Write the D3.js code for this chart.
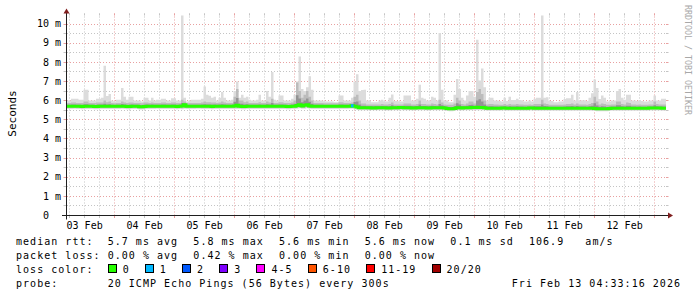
<!DOCTYPE html>
<html>
<head>
<meta charset="utf-8">
<script src="https://cdn.jsdelivr.net/npm/d3@7"></script>
<style>
body { margin: 0; background: #fff; }
svg { display: block; }
text { font-family: "DejaVu Sans Mono", monospace; fill: #000; white-space: pre; }
</style>
</head>
<body>
<svg id="chart" width="697" height="297"></svg>
<script>
// 10 days of hourly rows, newest at the right
const startTime = Date.UTC(2026, 1, 3, 4, 33, 16);
const endTime = Date.UTC(2026, 1, 13, 4, 33, 16);
const binMs = 3600 * 1000;

// highest ping per hour (ms)
const rttMax = [
  6.0,6.0,6.1,6.1,6.1,6.05,6.05,6.57,6.57,6.0,6.0,6.0,6.1,6.1,6.15,7.82,6.24,6.35,6.0,5.95,
  6.05,6.05,6.66,6.2,6.05,6.2,6.2,6.0,6.0,6.0,5.95,6.15,6.15,6.0,6.15,6.0,6.05,6.05,6.1,6.1,
  6.0,6.0,6.12,6.12,6.0,6.0,10.6,6.15,5.95,6.0,6.05,6.05,6.05,6.05,6.1,6.73,6.3,6.25,6.15,6.2,
  6.0,6.15,6.45,6.15,6.0,6.0,6.05,6.5,7.0,6.15,6.3,6.15,6.2,6.05,6.0,6.0,6.05,6.3,6.0,6.0,
  6.5,6.2,7.5,6.05,6.0,6.26,6.26,6.0,6.0,6.0,6.1,6.3,7.0,8.3,6.6,6.5,6.7,7.27,6.57,6.0,
  6.0,6.0,6.0,5.95,5.95,5.95,5.95,5.92,5.92,6.26,6.26,6.0,6.0,6.0,6.15,7.0,7.38,6.5,6.55,6.57,
  6.0,6.0,5.92,5.92,5.92,6.0,6.05,5.95,5.95,6.15,6.32,5.98,5.98,5.95,5.95,6.26,6.26,6.26,6.0,6.0,
  6.1,6.83,6.15,6.1,6.0,6.0,6.2,6.15,6.0,9.53,6.57,6.0,6.0,5.92,5.92,6.3,7.13,6.6,6.15,6.0,
  6.26,6.5,6.5,6.2,9.18,7.05,7.68,6.7,6.0,6.15,6.15,6.0,6.0,5.98,5.95,6.15,5.98,6.2,6.03,6.03,
  6.1,6.03,6.02,5.95,5.95,6.0,5.95,6.1,6.15,6.15,10.6,6.15,6.17,5.98,5.98,5.92,5.92,5.95,5.95,6.08,
  6.12,6.12,6.3,6.0,6.45,6.0,6.02,6.02,5.98,6.15,6.38,7.1,6.66,6.08,6.26,6.15,5.95,5.95,6.0,6.0,
  6.5,6.6,6.15,6.05,6.3,6.3,6.0,6.0,5.98,6.03,5.98,5.95,5.95,6.0,6.0,6.26,6.0,6.0,6.1,6.1
];

// upper edge of the dense smoke (ms)
const rttHi = [
  5.88,5.88,5.9,5.9,5.88,5.88,5.88,5.95,5.95,5.88,5.88,5.88,5.9,5.9,5.9,6.0,5.92,5.95,5.88,5.86,
  5.88,5.88,5.95,5.9,5.88,5.9,5.9,5.88,5.88,5.88,5.86,5.9,5.9,5.88,5.9,5.88,5.88,5.88,5.9,5.9,
  5.88,5.88,5.9,5.9,5.88,5.88,6.05,5.95,5.86,5.88,5.88,5.88,5.88,5.88,5.9,5.95,5.92,5.92,5.9,5.9,
  5.88,5.9,5.95,5.9,5.88,5.88,5.88,6.2,6.6,6.0,6.0,5.92,5.95,5.88,5.88,5.88,5.88,5.92,5.88,5.88,
  5.95,5.9,6.1,5.88,5.88,5.92,5.92,5.88,5.88,5.88,5.9,6.0,6.95,6.5,6.15,6.3,6.5,6.2,6.0,5.88,
  5.88,5.88,5.88,5.86,5.86,5.86,5.86,5.86,5.86,5.92,5.92,5.88,5.88,5.88,5.9,6.2,6.3,6.0,5.85,5.85,
  5.8,5.8,5.8,5.8,5.8,5.8,5.82,5.8,5.8,5.82,5.9,5.8,5.8,5.8,5.8,5.85,5.85,5.85,5.8,5.8,
  5.82,6.0,5.82,5.82,5.8,5.8,5.85,5.82,5.8,6.05,5.9,5.8,5.78,5.78,5.78,5.85,6.15,6.0,5.82,5.8,
  5.85,5.95,5.95,5.85,6.45,6.6,6.35,6.0,5.8,5.82,5.82,5.8,5.8,5.78,5.78,5.82,5.78,5.82,5.8,5.8,
  5.82,5.8,5.8,5.78,5.78,5.8,5.78,5.82,5.82,5.82,6.05,5.85,5.82,5.78,5.78,5.78,5.78,5.78,5.78,5.8,
  5.82,5.82,5.85,5.8,5.85,5.8,5.8,5.8,5.78,5.82,5.88,6.2,5.95,5.8,5.85,5.82,5.78,5.78,5.8,5.8,
  5.95,5.95,5.82,5.8,5.9,5.88,5.8,5.8,5.78,5.8,5.78,5.78,5.78,5.8,5.8,5.95,5.82,5.8,5.8,5.8
];

// median rtt per hour (ms)
const rttMed = [
  5.7,5.7,5.7,5.71,5.7,5.7,5.69,5.7,5.7,5.7,5.7,5.69,5.69,5.7,5.7,5.71,5.7,5.7,5.7,5.7,
  5.7,5.7,5.71,5.7,5.69,5.69,5.7,5.7,5.7,5.68,5.68,5.69,5.7,5.7,5.7,5.7,5.71,5.7,5.7,5.7,
  5.7,5.7,5.7,5.7,5.69,5.7,5.72,5.78,5.7,5.7,5.7,5.7,5.71,5.71,5.7,5.7,5.7,5.7,5.69,5.7,
  5.7,5.7,5.7,5.7,5.7,5.7,5.7,5.72,5.76,5.7,5.69,5.69,5.7,5.7,5.7,5.7,5.7,5.7,5.7,5.7,
  5.7,5.7,5.7,5.7,5.7,5.7,5.7,5.7,5.69,5.69,5.7,5.7,5.74,5.78,5.72,5.76,5.78,5.72,5.7,5.7,
  5.7,5.7,5.7,5.7,5.7,5.7,5.7,5.7,5.7,5.7,5.7,5.7,5.7,5.71,5.73,5.7,5.66,5.63,5.63,5.63,
  5.63,5.63,5.62,5.62,5.63,5.63,5.63,5.63,5.62,5.62,5.63,5.63,5.63,5.64,5.64,5.63,5.63,5.63,5.62,5.62,
  5.63,5.63,5.63,5.63,5.62,5.62,5.63,5.63,5.63,5.63,5.63,5.62,5.59,5.58,5.58,5.59,5.63,5.63,5.62,5.63,
  5.63,5.63,5.64,5.64,5.65,5.64,5.64,5.63,5.6,5.6,5.6,5.6,5.6,5.6,5.61,5.61,5.6,5.6,5.6,5.6,
  5.6,5.6,5.6,5.6,5.6,5.61,5.61,5.6,5.6,5.6,5.6,5.6,5.6,5.6,5.6,5.6,5.6,5.6,5.6,5.6,
  5.6,5.6,5.6,5.6,5.6,5.6,5.6,5.6,5.6,5.6,5.6,5.59,5.58,5.58,5.58,5.58,5.58,5.59,5.6,5.6,
  5.6,5.6,5.6,5.6,5.6,5.6,5.6,5.6,5.6,5.6,5.6,5.6,5.6,5.61,5.61,5.61,5.61,5.61,5.6,5.6
];

// lowest ping per hour (ms)
const rttMin = [
  5.56,5.56,5.56,5.57,5.56,5.56,5.55,5.56,5.56,5.56,5.56,5.55,5.55,5.56,5.56,5.56,5.56,5.56,5.56,5.56,
  5.56,5.56,5.57,5.56,5.55,5.55,5.56,5.56,5.56,5.54,5.54,5.55,5.56,5.56,5.56,5.56,5.57,5.56,5.56,5.56,
  5.56,5.56,5.56,5.56,5.55,5.56,5.55,5.58,5.56,5.56,5.56,5.56,5.57,5.57,5.56,5.56,5.56,5.56,5.55,5.56,
  5.56,5.56,5.56,5.56,5.56,5.56,5.56,5.56,5.56,5.56,5.55,5.55,5.56,5.56,5.56,5.56,5.56,5.56,5.56,5.56,
  5.56,5.56,5.56,5.56,5.56,5.56,5.56,5.56,5.55,5.55,5.56,5.56,5.58,5.6,5.57,5.58,5.6,5.57,5.56,5.56,
  5.56,5.56,5.56,5.56,5.56,5.56,5.56,5.56,5.56,5.56,5.56,5.56,5.56,5.57,5.58,5.55,5.52,5.5,5.5,5.5,
  5.49,5.49,5.49,5.49,5.49,5.49,5.49,5.49,5.48,5.48,5.49,5.49,5.49,5.5,5.5,5.49,5.49,5.49,5.48,5.48,
  5.49,5.49,5.49,5.49,5.48,5.48,5.49,5.49,5.49,5.49,5.49,5.48,5.46,5.45,5.45,5.46,5.49,5.49,5.48,5.49,
  5.49,5.5,5.5,5.5,5.5,5.5,5.5,5.49,5.47,5.47,5.47,5.47,5.47,5.47,5.48,5.48,5.47,5.47,5.47,5.47,
  5.47,5.47,5.47,5.47,5.47,5.48,5.48,5.47,5.47,5.47,5.47,5.47,5.47,5.47,5.47,5.47,5.47,5.47,5.47,5.47,
  5.47,5.47,5.47,5.47,5.47,5.47,5.47,5.47,5.47,5.47,5.47,5.46,5.45,5.45,5.45,5.45,5.45,5.46,5.47,5.47,
  5.47,5.47,5.47,5.47,5.47,5.47,5.47,5.47,5.47,5.47,5.47,5.47,5.47,5.48,5.48,5.48,5.48,5.48,5.47,5.47
];

// [hour index, pings lost]
const lossEvents = [[114, 1]];

const lossLabels = ["0", "1", "2", "3", "4-5", "6-10", "11-19", "20/20"];
const lossColors = ["#26ff00", "#00b8ff", "#0059ff", "#7e00ff", "#ff00ff", "#ff5500", "#ff0000", "#a10000"];

const yTicks = [0, 1, 2, 3, 4, 5, 6, 7, 8, 9, 10];

const statLines = [
  ["median rtt:", ["5.7 ms avg", "5.8 ms max", "5.6 ms min", "5.6 ms now", "0.1 ms sd", "106.9   am/s"]],
  ["packet loss:", ["0.00 % avg", "0.42 % max", "0.00 % min", "0.00 % now"]],
  ["loss color:", []],
  ["probe:", ["20 ICMP Echo Pings (56 Bytes) every 300s"]]
];
const stampText = "Fri Feb 13 04:33:16 2026";

const svg = d3.select("#chart");
svg.append("rect").attr("width", 697).attr("height", 297).attr("fill", "#fff");

const x0 = 66, x1 = 666, yBase = 215.5, yTop = 15.5;
const x = d3.scaleUtc().domain([new Date(startTime), new Date(endTime)]).range([x0, x1]);
const y = d3.scaleLinear().domain([0, 10]).range([yBase, 24]);
const crisp = v => Math.floor(v) + 0.5;

const gridCol = "#c4c4c4", mgridCol = "#e8a0a0";

// vertical grid
const grid = svg.append("g");
const sixHours = d3.utcHour.every(6).range(new Date(startTime), new Date(endTime));
sixHours.forEach(t => {
  const major = t.getUTCHours() === 0;
  const px = crisp(x(t));
  const col = major ? mgridCol : gridCol;
  grid.append("line").attr("x1", px).attr("x2", px).attr("y1", yTop - 2).attr("y2", yBase + 2)
    .attr("stroke", col).attr("stroke-dasharray", "1,2");
  grid.append("line").attr("x1", px).attr("x2", px).attr("y1", yBase).attr("y2", yBase + 2.5)
    .attr("stroke", col);
  grid.append("line").attr("x1", px).attr("x2", px).attr("y1", yTop - 2).attr("y2", yTop)
    .attr("stroke", col);
});

// horizontal grid
d3.range(1, 21).map(d => d / 2).forEach(v => {
  const major = Number.isInteger(v);
  const py = crisp(y(v));
  const col = major ? mgridCol : gridCol;
  grid.append("line").attr("x1", x0 - 2).attr("x2", x1 + 2).attr("y1", py).attr("y2", py)
    .attr("stroke", col).attr("stroke-dasharray", "1,2");
  grid.append("line").attr("x1", x0 - 2.5).attr("x2", x0).attr("y1", py).attr("y2", py).attr("stroke", col);
  grid.append("line").attr("x1", x1).attr("x2", x1 + 2.5).attr("y1", py).attr("y2", py).attr("stroke", col);
});

// smoke + median
svg.append("clipPath").attr("id", "plotClip")
  .append("rect").attr("x", x0).attr("y", yTop).attr("width", x1 - x0 + 1).attr("height", yBase - yTop);

const rows = rttMax.map((m, i) => ({
  t: new Date(startTime + i * binMs), max: m, hi: rttHi[i], med: rttMed[i], min: rttMin[i]
}));
rows.push({ ...rows[rows.length - 1], t: new Date(endTime) });

const plot = svg.append("g").attr("clip-path", "url(#plotClip)");
const band = (lo, hi) => d3.area().curve(d3.curveStepAfter)
  .x(d => x(d.t)).y0(d => y(lo(d))).y1(d => y(hi(d)));

plot.append("path").datum(rows).attr("fill", "#dcdcdc")
  .attr("d", band(d => d.min, d => d.max));
plot.append("path").datum(rows).attr("fill", "#bcbcbc")
  .attr("d", band(d => d.min + 0.05, d => d.hi));
plot.append("path").datum(rows).attr("fill", "#939393")
  .attr("d", band(d => d.med, d => d.med + (d.hi - d.med) * 0.45));

plot.append("path").datum(rows).attr("fill", "none")
  .attr("stroke", lossColors[0]).attr("stroke-width", 3)
  .attr("d", d3.line().curve(d3.curveStepAfter).x(d => x(d.t)).y(d => y(d.med)));

lossEvents.forEach(([i, lost]) => {
  const r = rows[i];
  plot.append("line")
    .attr("x1", x(r.t)).attr("x2", x(rows[i + 1].t))
    .attr("y1", y(r.med)).attr("y2", y(r.med))
    .attr("stroke", lossColors[Math.min(lost, 7)]).attr("stroke-width", 3);
});

// axes
const axisCol = "#1f1f1f", arrowCol = "#801f1f";
svg.append("line").attr("x1", x0 - 4).attr("x2", x1 + 4).attr("y1", yBase).attr("y2", yBase)
  .attr("stroke", axisCol);
svg.append("line").attr("x1", x0 + 0.5).attr("x2", x0 + 0.5).attr("y1", yBase + 4).attr("y2", yTop - 4)
  .attr("stroke", axisCol);
svg.append("path").attr("fill", arrowCol)
  .attr("d", `M${x1 + 2},${yBase - 3}L${x1 + 2},${yBase + 3}L${x1 + 7},${yBase}Z`);
svg.append("path").attr("fill", arrowCol)
  .attr("d", `M${x0 - 2.5},${yTop - 2}L${x0 + 3.5},${yTop - 2}L${x0 + 0.5},${yTop - 7}Z`);

// y labels
svg.append("g").selectAll("text").data(yTicks).join("text")
  .attr("x", 61).attr("y", d => y(d) + 3.2)
  .attr("text-anchor", "end").attr("font-size", 10)
  .text(d => d === 0 ? "0  " : d + " m");

// x labels at noon of each day
const noons = d3.utcDay.range(new Date(startTime - 86400000), new Date(endTime))
  .map(d => d3.utcHour.offset(d, 12))
  .filter(d => d >= new Date(startTime) && d <= new Date(endTime));
svg.append("g").selectAll("text").data(noons).join("text")
  .attr("x", d => x(d)).attr("y", 228.5)
  .attr("text-anchor", "middle").attr("font-size", 10)
  .text(d3.utcFormat("%d %b"));

svg.append("text")
  .attr("transform", "translate(15.5,113.5) rotate(-90)")
  .attr("text-anchor", "middle").attr("font-size", 11)
  .text("Seconds");

svg.append("text")
  .attr("transform", "translate(685,60) rotate(90)")
  .attr("text-anchor", "middle").attr("font-size", 8.3)
  .style("fill", "#a8a8a8")
  .text("RRDTOOL / TOBI OETIKER");

// legend
const legendFont = 10, legendSpacing = 1.03, itemGap = 15.15;
const legend = svg.append("g")
  .attr("font-size", legendFont).style("letter-spacing", legendSpacing + "px");
const probe = legend.append("text").text("0000000000");
const adv = probe.node().getComputedTextLength() / 10;
probe.remove();

statLines.forEach(([label, items], row) => {
  const base = 244.5 + row * 14;
  legend.append("text").attr("x", 16).attr("y", base).text(label);
  let cx = 16 + 13 * adv;
  items.forEach(s => {
    legend.append("text").attr("x", cx).attr("y", base).text(s);
    cx += s.length * adv + itemGap;
  });
  if (row === 2) {
    lossLabels.forEach((s, k) => {
      legend.append("rect")
        .attr("x", Math.round(cx) + 0.5).attr("y", base - 8).attr("width", 8).attr("height", 8)
        .attr("fill", lossColors[k]).attr("stroke", "#000");
      legend.append("text").attr("x", cx + 15).attr("y", base).text(s);
      cx += 15 + s.length * adv + itemGap;
    });
  }
  if (row === 3) {
    legend.append("text").attr("x", 681).attr("y", base).attr("text-anchor", "end").text(stampText);
  }
});
</script>
</body>
</html>
